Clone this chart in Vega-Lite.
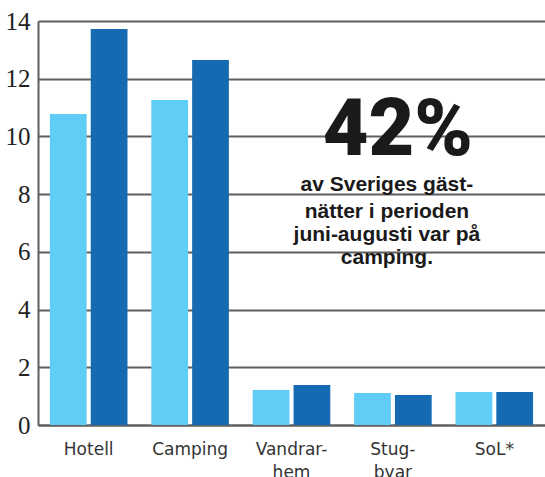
{
  "$schema": "https://vega.github.io/schema/vega-lite/v6.json",
  "width": 507,
  "height": 404,
  "autosize": "none",
  "padding": {"left": 38, "top": 21, "right": 0, "bottom": 52},
  "background": "white",
  "config": {"view": {"stroke": null}, "font": "DejaVu Sans"},
  "datasets": {
    "bars": [
      {"category": "Hotell", "series": "Serie 1", "value": 10.78},
      {"category": "Hotell", "series": "Serie 2", "value": 13.72},
      {"category": "Camping", "series": "Serie 1", "value": 11.26},
      {"category": "Camping", "series": "Serie 2", "value": 12.65},
      {"category": "Vandrar-\nhem", "series": "Serie 1", "value": 1.21},
      {"category": "Vandrar-\nhem", "series": "Serie 2", "value": 1.39},
      {"category": "Stug-\nbyar", "series": "Serie 1", "value": 1.11},
      {"category": "Stug-\nbyar", "series": "Serie 2", "value": 1.04},
      {"category": "SoL*", "series": "Serie 1", "value": 1.14},
      {"category": "SoL*", "series": "Serie 2", "value": 1.14}
    ],
    "big": [
      {"category": "Stug-\nbyar", "y": 9.36, "text": "42%"}
    ],
    "para": [
      {"category": "Stug-\nbyar", "y": 8.11, "text": "av Sveriges gäst-"},
      {"category": "Stug-\nbyar", "y": 7.17, "text": "nätter i perioden"},
      {"category": "Stug-\nbyar", "y": 6.38, "text": "juni-augusti var på"},
      {"category": "Stug-\nbyar", "y": 5.58, "text": "camping."}
    ]
  },
  "layer": [
    {
      "data": {"name": "bars"},
      "mark": {"type": "bar"},
      "encoding": {
        "x": {
          "field": "category", "type": "nominal", "sort": null,
          "scale": {"paddingInner": 0.235, "paddingOuter": 0.1175},
          "axis": {
            "title": null, "labelAngle": 0, "ticks": false, "grid": false,
            "domainColor": "#5f5f5f", "domainWidth": 2,
            "labelPadding": 16, "labelFontSize": 17, "labelLineHeight": 23,
            "labelColor": "#333333", "labelFont": "DejaVu Sans",
            "labelExpr": "split(datum.label, '\\n')"
          }
        },
        "xOffset": {"field": "series", "type": "nominal", "scale": {"paddingInner": 0.1}},
        "y": {
          "field": "value", "type": "quantitative",
          "scale": {"domain": [0, 14], "nice": false},
          "axis": {
            "title": null, "values": [0, 2, 4, 6, 8, 10, 12, 14],
            "grid": true, "gridColor": "#5f5f5f", "gridWidth": 2,
            "domainColor": "#5f5f5f", "domainWidth": 2, "ticks": false,
            "labelPadding": 8, "labelFontSize": 25, "labelFont": "Liberation Sans Narrow",
            "labelColor": "#222222"
          }
        },
        "color": {
          "field": "series", "type": "nominal",
          "scale": {"domain": ["Serie 1", "Serie 2"], "range": ["#5fcdf5", "#166ab2"]},
          "legend": null
        }
      }
    },
    {
      "data": {"name": "big"},
      "mark": {"type": "text", "font": "Roboto", "fontWeight": 900, "fontSize": 79, "baseline": "alphabetic", "align": "center", "dx": 5, "color": "#1a1a1a"},
      "encoding": {
        "x": {"field": "category", "type": "nominal", "sort": null},
        "y": {"field": "y", "type": "quantitative"},
        "text": {"field": "text"}
      }
    },
    {
      "data": {"name": "para"},
      "mark": {"type": "text", "font": "Liberation Sans", "fontWeight": "bold", "fontSize": 21, "baseline": "alphabetic", "align": "center", "dx": -6, "color": "#1a1a1a"},
      "encoding": {
        "x": {"field": "category", "type": "nominal", "sort": null},
        "y": {"field": "y", "type": "quantitative"},
        "text": {"field": "text"}
      }
    }
  ]
}
